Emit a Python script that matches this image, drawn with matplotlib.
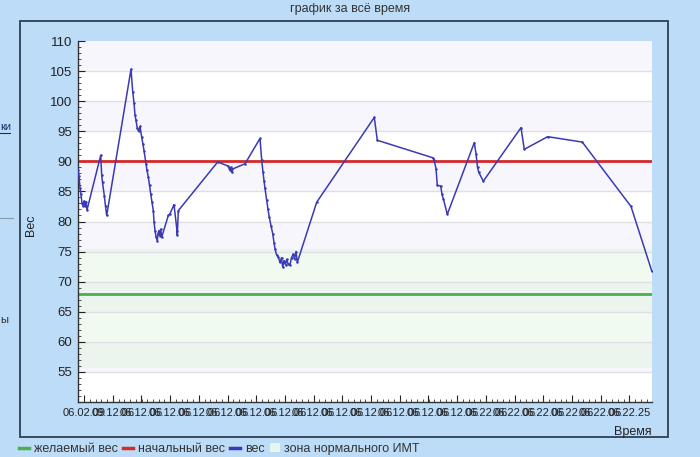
import matplotlib
matplotlib.use("Agg")
import matplotlib.pyplot as plt
from matplotlib.lines import Line2D
from matplotlib.patches import Patch, Rectangle
import numpy as np

plt.rcParams['font.family'] = ['Liberation Sans', 'DejaVu Sans']

# ---- data (days since first record, weight kg) ----
days = [0, 10, 20, 30, 40, 50, 60, 70, 80, 90,
        227, 237, 245, 263, 275, 287,
        530, 547, 560, 570, 580, 593, 605, 620, 637, 650, 660, 680, 690, 703,
        715, 727, 740, 753, 760, 770, 780, 793, 800, 810, 820, 827, 837,
        903, 920, 960, 990, 993, 1003,
        1397, 1503, 1515, 1525, 1537, 1543, 1670,
        1820, 1837, 1850, 1860, 1870, 1887, 1900, 1913, 1930, 1947, 1960, 1970,
        1985, 2003, 2020, 2035, 2047, 2060, 2075, 2087, 2100, 2120, 2135, 2153,
        2165, 2180, 2193,
        2387, 2963, 2993, 3547, 3560, 3580, 3593, 3627, 3640, 3653, 3693,
        3963, 3980, 3995, 4007, 4053, 4430, 4463, 4697, 5043, 5530, 5737]
weight = [88.6, 87.5, 85.6, 84.5, 83.0, 82.6, 83.4, 82.6, 83.3, 81.9,
          91.0, 87.7, 86.5, 84.3, 82.5, 81.0,
          105.3, 101.6, 99.7, 97.7, 96.8, 95.5, 95.0, 95.8, 94.0, 92.8, 91.8, 89.6, 88.5, 87.4,
          86.0, 84.6, 83.2, 81.8, 80.0, 78.5, 77.5, 76.8, 78.0, 78.5, 77.6, 78.7, 77.4,
          81.0, 81.3, 82.8, 78.5, 77.7, 81.8,
          89.9, 89.2, 88.6, 89.0, 88.2, 88.7, 89.6,
          93.8, 90.2, 88.2, 86.8, 85.5, 83.5, 82.0, 80.7, 79.3, 78.0, 76.5, 75.5,
          74.5, 74.1, 73.2, 74.0, 72.4, 73.5, 72.8, 73.7, 73.0, 72.8, 74.0, 74.6,
          73.8, 75.0, 73.2,
          83.2, 97.3, 93.5, 90.6, 90.3, 88.8, 86.0, 85.9, 84.5, 83.8, 81.2,
          93.1, 91.3, 89.0, 88.2, 86.7, 95.6, 92.0, 94.1, 93.2, 82.5, 71.8]
start_weight = 90
target_weight = 68
bmi_low, bmi_high = 55.6, 75.4
y_ticks = [55, 60, 65, 70, 75, 80, 85, 90, 95, 100, 105, 110]
x_tick_labels = ["06.02.09", "09.12.06", "06.12.06", "06.12.06", "06.12.06",
                 "06.12.06", "06.12.06", "06.12.06", "06.12.06", "06.12.06",
                 "06.12.06", "06.12.06", "06.12.06", "06.12.06", "06.22.06",
                 "06.22.06", "06.22.06", "06.22.06", "06.22.06", "06.22.25"]

W, H = 700, 457
fig = plt.figure(figsize=(W / 100, H / 100), dpi=100)
bg = '#bddcf7'
fig.patch.set_facecolor(bg)

# outer frame
fig.add_artist(Rectangle((20 / W, 1 - 437 / H), 648 / W, 416 / H,
                         transform=fig.transFigure, fill=False,
                         edgecolor='#2f3f55', lw=1.3))

ax = fig.add_axes([78 / W, 1 - 402 / H, 574 / W, 361 / H])
ax.set_facecolor('white')
ax.set_xlim(0, 5740)
ax.set_ylim(50, 110)

# alternating bands
for lo in range(50, 110, 5):
    if (lo // 5) % 2 == 1:
        ax.axhspan(lo, lo + 5, color='#f6f6fc', lw=0, zorder=0)
ax.axhspan(bmi_low, bmi_high, color='#dff5df', alpha=0.45, lw=0, zorder=0.5)
for y in range(55, 110, 5):
    ax.axhline(y, color='#e0e0e4', lw=1, zorder=0.8)

ax.axhline(start_weight, color='#d42a2a', lw=2, zorder=2)
ax.axhline(target_weight, color='#4cae4c', lw=2, zorder=2)
ax.plot(days, weight, color='#3a3ab4', lw=1.1, marker='o', ms=0.8, zorder=3)

for s in ['top', 'right']:
    ax.spines[s].set_visible(False)
for s in ['left', 'bottom']:
    ax.spines[s].set_color('#333333')
    ax.spines[s].set_linewidth(1)

ax.set_yticks(y_ticks)
ax.set_yticks(np.arange(50, 111, 1), minor=True)
ax.tick_params(axis='y', which='major', direction='in', length=5, labelsize=9.5,
               colors='#222222', pad=4)
ax.tick_params(axis='y', which='minor', direction='in', length=2.5, color='#333333')

xt = 60 + 287 * np.arange(len(x_tick_labels))
ax.set_xticks(xt)
ax.set_xticklabels(x_tick_labels)
ax.set_xticks(np.arange(3.6, 5740, 57.4), minor=True)
ax.tick_params(axis='x', which='major', direction='in', length=5, labelsize=8,
               colors='#222222', pad=4)
ax.tick_params(axis='x', which='minor', direction='in', length=2.5, color='#333333')

fig.text(0.5, 1 - 9 / H, 'график за всё время', ha='center', va='center',
         fontsize=9, color='#333333')
fig.text(31 / W, 1 - 225 / H, 'Вес', rotation=90, ha='center', va='center',
         fontsize=9, color='#222222')
fig.text(652 / W, 1 - 432 / H, 'Время', ha='right', va='center',
         fontsize=9, color='#222222')

# page remnants on the left edge
fig.text(0, 1 - 127 / H, 'ки', ha='left', va='center', fontsize=8, color='#1a2a6e')
fig.add_artist(Line2D([0, 10 / W], [1 - 133 / H, 1 - 133 / H], transform=fig.transFigure,
                      color='#1a2a6e', lw=0.8))
fig.add_artist(Line2D([0, 13 / W], [1 - 218 / H, 1 - 218 / H], transform=fig.transFigure,
                      color='#8899aa', lw=0.8))
fig.text(0, 1 - 320 / H, 'ы', ha='left', va='center', fontsize=8, color='#333333')

handles = [Line2D([], [], color='#4cae4c', lw=2.5),
           Line2D([], [], color='#d42a2a', lw=2.5),
           Line2D([], [], color='#3a3ab4', lw=2.5),
           Patch(facecolor='#e3f7ef', edgecolor='none')]
labels = ['желаемый вес', 'начальный вес', 'вес', 'зона нормального ИМТ']
fig.legend(handles, labels, loc='center left', bbox_to_anchor=(19 / W, 1 - 449 / H),
           ncol=4, frameon=False, handlelength=0.8, handletextpad=0.4,
           columnspacing=0.4, fontsize=9, labelcolor='#333333', borderpad=0,
           borderaxespad=0)

fig.savefig('out.png', dpi=100, facecolor=bg)
